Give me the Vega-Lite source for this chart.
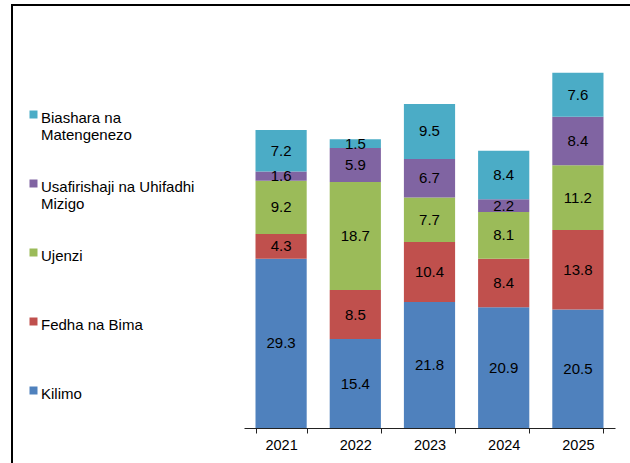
{
  "$schema": "https://vega.github.io/schema/vega-lite/v6.json",
  "autosize": "none",
  "width": 640,
  "height": 470,
  "padding": {"left": 12, "top": 5, "right": 0, "bottom": 0},
  "background": "white",
  "config": {
    "view": {"stroke": "#000", "strokeWidth": 2},
    "font": "Liberation Sans"
  },
  "data": {
    "values": [
      {"mwaka": "2021", "sekta": "Kilimo", "thamani": 29.3},
      {"mwaka": "2021", "sekta": "Fedha na Bima", "thamani": 4.3},
      {"mwaka": "2021", "sekta": "Ujenzi", "thamani": 9.2},
      {"mwaka": "2021", "sekta": "Usafirishaji na Uhifadhi Mizigo", "thamani": 1.6},
      {"mwaka": "2021", "sekta": "Biashara na Matengenezo", "thamani": 7.2},
      {"mwaka": "2022", "sekta": "Kilimo", "thamani": 15.4},
      {"mwaka": "2022", "sekta": "Fedha na Bima", "thamani": 8.5},
      {"mwaka": "2022", "sekta": "Ujenzi", "thamani": 18.7},
      {"mwaka": "2022", "sekta": "Usafirishaji na Uhifadhi Mizigo", "thamani": 5.9},
      {"mwaka": "2022", "sekta": "Biashara na Matengenezo", "thamani": 1.5},
      {"mwaka": "2023", "sekta": "Kilimo", "thamani": 21.8},
      {"mwaka": "2023", "sekta": "Fedha na Bima", "thamani": 10.4},
      {"mwaka": "2023", "sekta": "Ujenzi", "thamani": 7.7},
      {"mwaka": "2023", "sekta": "Usafirishaji na Uhifadhi Mizigo", "thamani": 6.7},
      {"mwaka": "2023", "sekta": "Biashara na Matengenezo", "thamani": 9.5},
      {"mwaka": "2024", "sekta": "Kilimo", "thamani": 20.9},
      {"mwaka": "2024", "sekta": "Fedha na Bima", "thamani": 8.4},
      {"mwaka": "2024", "sekta": "Ujenzi", "thamani": 8.1},
      {"mwaka": "2024", "sekta": "Usafirishaji na Uhifadhi Mizigo", "thamani": 2.2},
      {"mwaka": "2024", "sekta": "Biashara na Matengenezo", "thamani": 8.4},
      {"mwaka": "2025", "sekta": "Kilimo", "thamani": 20.5},
      {"mwaka": "2025", "sekta": "Fedha na Bima", "thamani": 13.8},
      {"mwaka": "2025", "sekta": "Ujenzi", "thamani": 11.2},
      {"mwaka": "2025", "sekta": "Usafirishaji na Uhifadhi Mizigo", "thamani": 8.4},
      {"mwaka": "2025", "sekta": "Biashara na Matengenezo", "thamani": 7.6}
    ]
  },
  "transform": [
    {"calculate": "indexof(['Kilimo','Fedha na Bima','Ujenzi','Usafirishaji na Uhifadhi Mizigo','Biashara na Matengenezo'], datum.sekta)", "as": "mpangilio"},
    {"stack": "thamani", "groupby": ["mwaka"], "sort": [{"field": "mpangilio", "order": "ascending"}], "as": ["y0", "y1"]},
    {"calculate": "(datum.y0 + datum.y1) / 2", "as": "ykati"}
  ],
  "encoding": {
    "x": {
      "field": "mwaka",
      "type": "ordinal",
      "scale": {"range": [232, 603], "paddingInner": 0.31, "paddingOuter": 0.155},
      "axis": {
        "title": null,
        "offset": -47,
        "labelAngle": 0,
        "labelFontSize": 14.5,
        "labelColor": "#000",
        "labelPadding": 5,
        "domainColor": "#222",
        "domainWidth": 1,
        "tickColor": "#222",
        "tickSize": 5,
        "tickBand": "extent",
        "grid": false
      }
    }
  },
  "layer": [
    {
      "mark": {"type": "bar"},
      "encoding": {
        "y": {
          "field": "y1",
          "type": "quantitative",
          "scale": {"domain": [0, 73.25], "range": [423, 0], "nice": false, "zero": true},
          "axis": null
        },
        "y2": {"field": "y0"},
        "color": {
          "field": "sekta",
          "type": "nominal",
          "scale": {
            "domain": ["Biashara na Matengenezo", "Usafirishaji na Uhifadhi Mizigo", "Ujenzi", "Fedha na Bima", "Kilimo"],
            "range": ["#4BACC6", "#8064A2", "#9BBB59", "#C0504D", "#4F81BD"]
          },
          "legend": {
            "title": null,
            "orient": "none",
            "legendX": 14,
            "legendY": 98,
            "symbolType": "M-1,0H1V2H-1Z",
            "symbolSize": 64,
            "symbolStrokeWidth": 0,
            "labelFontSize": 15,
            "labelColor": "#000",
            "labelOffset": 0,
            "labelLimit": 400,
            "labelBaseline": "top",
            "gridAlign": "all",
            "rowPadding": 29,
            "padding": 0,
            "labelExpr": "datum.label == 'Biashara na Matengenezo' ? ['Biashara na', 'Matengenezo'] : datum.label == 'Usafirishaji na Uhifadhi Mizigo' ? ['Usafirishaji na Uhifadhi', 'Mizigo'] : datum.label"
          }
        }
      }
    },
    {
      "mark": {"type": "text", "fontSize": 15, "color": "#000", "baseline": "middle", "align": "center"},
      "encoding": {
        "y": {"field": "ykati", "type": "quantitative"},
        "text": {"field": "thamani", "type": "quantitative", "format": ".1f"}
      }
    }
  ]
}
